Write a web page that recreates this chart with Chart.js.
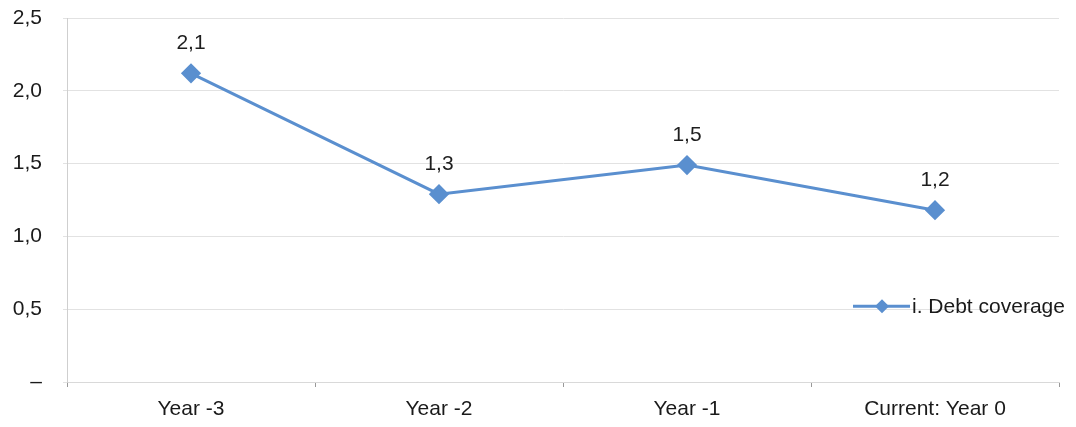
<!DOCTYPE html>
<html>
<head>
<meta charset="utf-8">
<script src="https://cdn.jsdelivr.net/npm/chart.js@4"></script>
<style>
  html, body { margin: 0; padding: 0; background: #fff; }
  #wrap { width: 1076px; height: 427px; }
</style>
</head>
<body>
<div id="wrap"><canvas id="lineChart"></canvas></div>
<script>
// datos del gráfico
const categories = ['Year -3', 'Year -2', 'Year -1', 'Current: Year 0'];
const debtCoverage = [2.12, 1.29, 1.49, 1.18];
const seriesName = 'i. Debt coverage';
const yTicks = [0, 0.5, 1.0, 1.5, 2.0, 2.5];

const blue = '#5a8fcf';
const fontFamily = '"Liberation Sans", Arial, sans-serif';

function fmt(v) {
    if (v === 0) return '–';
    return v.toFixed(1).replace('.', ',');
}

// etiquetas encima de los puntos
const pointLabels = {
    id: 'pointLabels',
    afterDatasetsDraw(chart) {
        const ctx = chart.ctx;
        const meta = chart.getDatasetMeta(0);
        ctx.save();
        ctx.font = '21px ' + fontFamily;
        ctx.fillStyle = '#1e1e1e';
        ctx.textAlign = 'center';
        ctx.textBaseline = 'middle';
        meta.data.forEach((pt, i) => {
            ctx.fillText(fmt(Math.round(debtCoverage[i] * 10) / 10), pt.x, pt.y - 30);
        });
        ctx.restore();
    }
};

// leyenda dentro del área del gráfico, a la derecha
const insideLegend = {
    id: 'insideLegend',
    afterDraw(chart) {
        const ctx = chart.ctx;
        const area = chart.chartArea;
        const y = chart.scales.y.getPixelForValue(0.5) - 3;
        const x0 = area.right - 206;
        ctx.save();
        ctx.strokeStyle = blue;
        ctx.lineWidth = 3;
        ctx.beginPath();
        ctx.moveTo(x0, y);
        ctx.lineTo(x0 + 57, y);
        ctx.stroke();
        ctx.fillStyle = blue;
        ctx.beginPath();
        ctx.moveTo(x0 + 29, y - 7);
        ctx.lineTo(x0 + 36, y);
        ctx.lineTo(x0 + 29, y + 7);
        ctx.lineTo(x0 + 22, y);
        ctx.closePath();
        ctx.fill();
        ctx.font = '21px ' + fontFamily;
        ctx.fillStyle = '#1a1a1a';
        ctx.textAlign = 'left';
        ctx.textBaseline = 'middle';
        ctx.fillText(seriesName, x0 + 59, y + 1);
        ctx.restore();
    }
};

const ctx = document.getElementById('lineChart').getContext('2d');
const lineChartInstance = new Chart(ctx, {
    type: 'line',
    data: {
        labels: categories,
        datasets: [{
            label: seriesName,
            data: debtCoverage,
            borderColor: blue,
            backgroundColor: blue,
            borderWidth: 3,
            pointStyle: 'rectRot',
            pointRadius: 8,
            pointHoverRadius: 8,
            tension: 0
        }]
    },
    options: {
        responsive: true,
        maintainAspectRatio: false,
        animation: false,
        layout: { padding: { left: 0, right: 17, top: 18, bottom: 0 } },
        plugins: {
            legend: { display: false },
            tooltip: { enabled: false }
        },
        scales: {
            x: {
                offset: true,
                grid: {
                    offset: true,
                    drawOnChartArea: false,
                    drawTicks: true,
                    tickLength: 5,
                    color: '#999'
                },
                border: { color: '#d9d9d9' },
                ticks: {
                    color: '#1a1a1a',
                    font: { family: fontFamily, size: 21 },
                    padding: 10,
                    maxRotation: 0
                },
                afterFit(scale) { scale.height = 45; }
            },
            y: {
                min: 0,
                max: 2.5,
                afterBuildTicks(scale) {
                    scale.ticks = yTicks.map(v => ({ value: v }));
                },
                grid: {
                    color: '#e2e2e2',
                    tickLength: 4
                },
                border: { color: '#cfcfcf' },
                ticks: {
                    color: '#1a1a1a',
                    font: { family: fontFamily, size: 21 },
                    padding: 21,
                    callback: v => fmt(v)
                },
                afterFit(scale) {
                    scale.width = 67;
                    scale.paddingTop = 0;
                    scale.paddingBottom = 0;
                }
            }
        }
    },
    plugins: [pointLabels, insideLegend]
});
</script>
</body>
</html>
